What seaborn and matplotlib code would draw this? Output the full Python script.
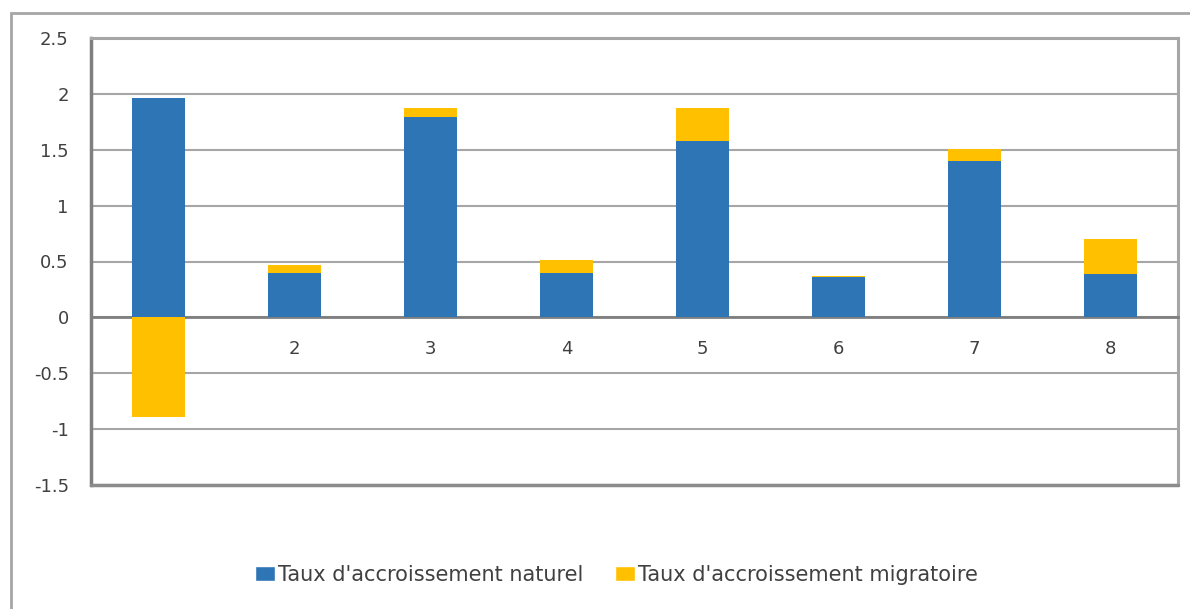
import numpy as np
import pandas as pd
import matplotlib
matplotlib.use("Agg")
import matplotlib.pyplot as plt
import seaborn as sns
from matplotlib.patches import Patch, Rectangle

# Données
categories = ["1", "2", "3", "4", "5", "6", "7", "8"]
naturel = [1.96, 0.40, 1.79, 0.40, 1.58, 0.36, 1.40, 0.39]
migratoire = [-0.89, 0.07, 0.08, 0.11, 0.29, 0.01, 0.11, 0.31]

nom_nat = "Taux d'accroissement naturel"
nom_mig = "Taux d'accroissement migratoire"

bleu = "#2E75B6"
jaune = "#FFC000"

sns.set_style("white")
plt.rcParams["font.family"] = ["DejaVu Sans"]

df = pd.DataFrame({"cat": categories, "nat": naturel, "mig": migratoire})
# la partie migratoire s'empile au-dessus du naturel quand elle est positive
df["haut_mig"] = np.where(df["mig"] >= 0, df["nat"] + df["mig"], df["mig"])

fig = plt.figure(figsize=(11.9, 6.09), dpi=100)
ax = fig.add_axes([91 / 1190, 1 - 485 / 609, (1178 - 91) / 1190, (485 - 38) / 609])

sns.barplot(data=df, x="cat", y="haut_mig", color=jaune, width=0.39,
            linewidth=0, saturation=1, ax=ax, zorder=3)
sns.barplot(data=df, x="cat", y="nat", color=bleu, width=0.39,
            linewidth=0, saturation=1, ax=ax, zorder=3)

ax.set_xlim(-0.5, len(categories) - 0.5)
ax.set_ylim(-1.5, 2.5)
ax.set_yticks(np.arange(-1.5, 2.51, 0.5))
ax.set_yticklabels(["-1.5", "-1", "-0.5", "0", "0.5", "1", "1.5", "2", "2.5"])
ax.set_xlabel("")
ax.set_ylabel("")

# quadrillage
ax.yaxis.grid(True, color="#A6A6A6", linewidth=1.5)
ax.set_axisbelow(True)

# axe des x sur la ligne zéro
ax.spines["bottom"].set_position(("data", 0))
ax.spines["bottom"].set_color("#7F7F7F")
ax.spines["bottom"].set_linewidth(2)
ax.spines["left"].set_color("#7F7F7F")
ax.spines["left"].set_linewidth(2.5)
for s in ["top", "right"]:
    ax.spines[s].set_visible(True)
    ax.spines[s].set_color("#A6A6A6")
    ax.spines[s].set_linewidth(2.2)
ax.axhline(-1.5, color="#8C8C8C", linewidth=2.5, clip_on=False, zorder=4)

ax.set_xticks(np.arange(0.5, len(categories) - 0.4, 1.0), minor=True)
ax.tick_params(axis="x", which="major", length=0, pad=16, labelsize=13, labelcolor="#404040")
ax.tick_params(axis="x", which="minor", length=6, width=1.2, color="#7F7F7F", direction="out")
ax.tick_params(axis="y", length=8, width=1.2, color="#7F7F7F", direction="out",
               pad=8, labelsize=13, labelcolor="#404040")
ax.xaxis.set_zorder(0.5)

# légende
handles = [Patch(facecolor=bleu, label=nom_nat), Patch(facecolor=jaune, label=nom_mig)]
fig.legend(handles=handles, loc="center", bbox_to_anchor=(0.518, 1 - 575 / 609), ncol=2,
           frameon=False, fontsize=15, handlelength=0.95, handleheight=0.75,
           handletextpad=0.15, columnspacing=1.5, labelcolor="#404040")

# cadre du graphique (ouvert à droite et en bas)
fig.patches.append(Rectangle((11 / 1190, -0.1), 1.2, 1 - 13 / 609 + 0.1,
                             transform=fig.transFigure, fill=False,
                             edgecolor="#A6A6A6", linewidth=2))

fig.savefig("out.png", dpi=100)
